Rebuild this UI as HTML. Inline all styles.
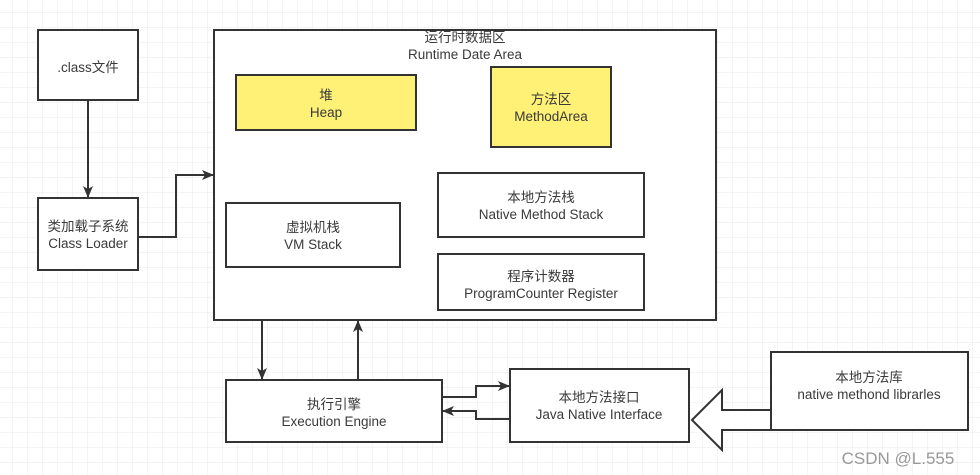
<!DOCTYPE html>
<html><head><meta charset="utf-8"><style>
html,body{margin:0;padding:0;background:#fff;}
svg{display:block;}
text{font-family:"Liberation Sans","Noto Sans CJK SC",sans-serif;font-size:13.5px;fill:#3a3a3a;text-anchor:middle;}
</style></head><body>
<svg width="980" height="475" viewBox="0 0 980 475" xmlns="http://www.w3.org/2000/svg">
<defs>
<pattern id="g" x="12" y="12" width="15" height="15" patternUnits="userSpaceOnUse">
<path d="M0 0H15M0 0V15" stroke="#e8e8e8" stroke-width="1" fill="none"/>
</pattern>
<marker id="a" markerWidth="12" markerHeight="12" refX="11" refY="6" orient="auto" markerUnits="userSpaceOnUse">
<path d="M0 1L12 6L0 11L3 6Z" fill="#333"/>
</marker>
</defs>
<rect width="980" height="475" fill="#fff"/>
<rect width="980" height="475" fill="url(#g)"/>
<g stroke="#333" stroke-width="2" fill="#fff">
<rect x="38" y="30" width="100" height="70"/>
<rect x="38" y="198" width="100" height="72"/>
<rect x="214" y="30" width="502" height="290"/>
<rect x="236" y="75" width="180" height="55" fill="#fff176"/>
<rect x="491" y="67" width="120" height="80" fill="#fff176"/>
<rect x="438" y="173" width="206" height="64"/>
<rect x="226" y="203" width="174" height="64"/>
<rect x="438" y="254" width="206" height="56"/>
<rect x="226" y="380" width="216" height="62"/>
<rect x="510" y="369" width="179" height="73"/>
<rect x="771" y="352" width="197" height="78"/>
<path d="M692 420L722 390V410H771V430H722V450Z"/>
</g>
<g stroke="#333" stroke-width="2" fill="none">
<path d="M88 100V197" marker-end="url(#a)"/>
<path d="M138 237H176V175H213" marker-end="url(#a)"/>
<path d="M262 320V379" marker-end="url(#a)"/>
<path d="M358 380V321" marker-end="url(#a)"/>
<path d="M442 397H476V386H509" marker-end="url(#a)"/>
<path d="M510 419H476V411H443" marker-end="url(#a)"/>
</g>
<text x="88" y="72">.class文件</text>
<text x="88" y="231">类加载子系统</text>
<text x="88" y="248">Class Loader</text>
<text x="465" y="42">运行时数据区</text>
<text x="465" y="59">Runtime Date Area</text>
<text x="326" y="100">堆</text>
<text x="326" y="117">Heap</text>
<text x="551" y="104">方法区</text>
<text x="551" y="121">MethodArea</text>
<text x="541" y="202">本地方法栈</text>
<text x="541" y="219">Native Method Stack</text>
<text x="313" y="232">虚拟机栈</text>
<text x="313" y="249">VM Stack</text>
<text x="541" y="281">程序计数器</text>
<text x="541" y="298">ProgramCounter Register</text>
<text x="334" y="409">执行引擎</text>
<text x="334" y="426">Execution Engine</text>
<text x="599" y="402">本地方法接口</text>
<text x="599" y="419">Java Native Interface</text>
<text x="869" y="382">本地方法库</text>
<text x="869" y="399">native methond librarles</text>
<text x="898" y="464" style="font-size:17px;fill:#999;">CSDN @L.555</text>
</svg>
</body></html>
